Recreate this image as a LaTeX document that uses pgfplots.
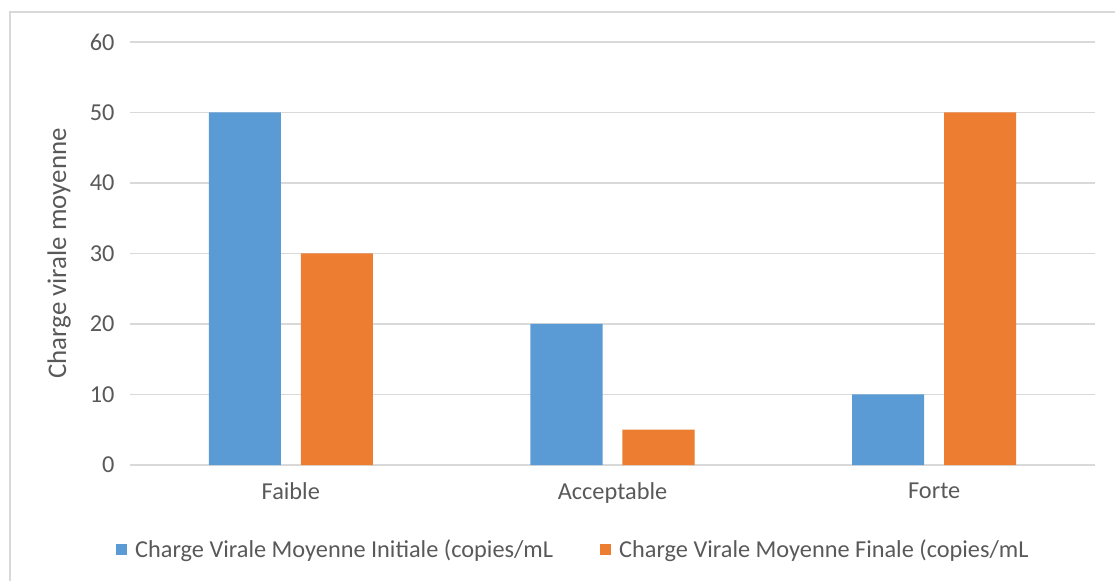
\documentclass[border=0pt]{standalone}
\usepackage{fontspec}
\setmainfont{Carlito}
\usepackage{pgfplots}
\pgfplotsset{compat=1.18}
\definecolor{cblue}{HTML}{5B9BD5}
\definecolor{corange}{HTML}{ED7D31}
\definecolor{cgrid}{HTML}{D9D9D9}
\definecolor{ctext}{HTML}{595959}
\begin{document}
\begin{tikzpicture}
\useasboundingbox (0,0) rectangle (1115bp,581bp);
\draw[cgrid, line width=2bp] (9.5bp,0) -- (9.5bp,568.5bp) -- (1115bp,568.5bp);
\begin{axis}[
  at={(130bp,116bp)}, anchor=south west,
  scale only axis, width=965bp, height=423bp,
  xmin=-0.5, xmax=2.5, ymin=0, ymax=60,
  ytick={0,10,...,60},
  xtick={0,1,2},
  xticklabels={Faible,Acceptable,Forte},
  /pgf/number format/assume math mode=true,
  axis line style={draw=none},
  major tick length=0pt,
  ymajorgrids,
  grid style={cgrid, line width=1.4bp},
  tick label style={font=\fontsize{24.4}{28}\selectfont, text=ctext},
  yticklabel style={xshift=-12bp},
  xticklabel style={yshift=-14bp},
  ylabel={Charge virale moyenne},
  ylabel style={at={(axis description cs:-0.0736,0.5)}, anchor=center, font=\fontsize{27}{31}\selectfont, text=ctext},
  legend columns=2,
  legend style={at={(axis description cs:0.459,-0.1986)}, anchor=center, draw=none, fill=none, inner sep=0pt,
    font=\fontsize{24.4}{28}\selectfont, text=ctext,
    /tikz/every odd column/.append style={column sep=7bp},
    /tikz/every even column/.append style={column sep=46bp},
    nodes={inner sep=1bp, anchor=west}},
  legend image code/.code={\fill[#1] (0bp,-5.5bp) rectangle (11bp,5.5bp);},
  clip=false,
]
\addplot[ybar, bar width=0.224, bar shift=-0.143, fill=cblue, draw=none] coordinates {(0,50) (1,20) (2,10)};
\addlegendentry{Charge Virale Moyenne Initiale (copies/mL}
\addplot[ybar, bar width=0.224, bar shift=0.143, fill=corange, draw=none] coordinates {(0,30) (1,5) (2,50)};
\addlegendentry{Charge Virale Moyenne Finale (copies/mL}
\end{axis}
\end{tikzpicture}
\end{document}
